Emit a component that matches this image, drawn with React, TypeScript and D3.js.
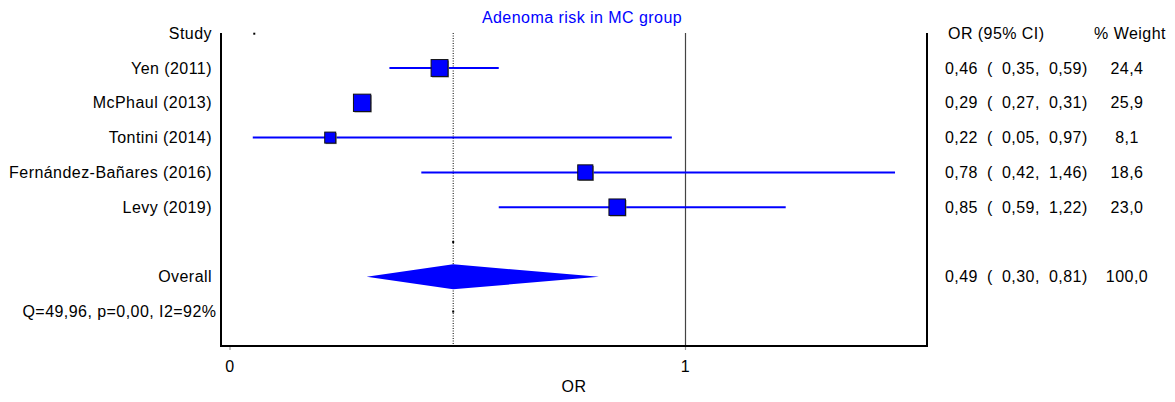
import React from "react";
import * as d3 from "d3";

const studies = ["Yen (2011)", "McPhaul (2013)", "Tontini (2014)", "Fernández-Bañares (2016)", "Levy (2019)"];
const oddsRatio = [0.46, 0.29, 0.22, 0.78, 0.85];
const lowerCI = [0.35, 0.27, 0.05, 0.42, 0.59];
const upperCI = [0.59, 0.31, 0.97, 1.46, 1.22];
const weights = [24.4, 25.9, 8.1, 18.6, 23.0];
const overallLabel = "Overall";
const overallEstimate = [0.49, 0.30, 0.81];
const overallWeight = 100.0;
const heterogeneity = "Q=49,96, p=0,00, I2=92%";
const xTicks = [0, 1];
const title = "Adenoma risk in MC group";

const W = 1175;
const H = 402;
const FONT = "'Liberation Sans', Arial, Helvetica, sans-serif";
const FS = 16;
const LS = 0.45;

const fmt2 = (v: number) => d3.format(".2f")(v).replace(".", ",");
const fmt1 = (v: number) => d3.format(".1f")(v).replace(".", ",");

export default function App() {
  const x = d3.scaleLinear().domain([0, 1]).range([230, 685.5]);
  const y = d3.scaleLinear().domain([0, 8]).range([33.2, 311.6]);
  const size = d3.scaleSqrt().domain([0, 25.9]).range([0, 14.3]);

  const left = 221;
  const right = 927;
  const top = 33;
  const bottom = 346;

  const textProps = { fontFamily: FONT, fontSize: FS, letterSpacing: LS, fill: "#000" } as const;

  const rows = studies.map((s, i) => ({
    label: s,
    or: oddsRatio[i],
    lo: lowerCI[i],
    hi: upperCI[i],
    w: weights[i],
    y: y(i + 1),
  }));

  const oy = y(7);
  const dh = 12.5;
  const diamond = [
    [x(overallEstimate[1]), oy],
    [x(overallEstimate[0]), oy - dh],
    [x(overallEstimate[2]), oy],
    [x(overallEstimate[0]), oy + dh],
  ];
  const diamondPath = d3.line()(diamond as [number, number][]) + "Z";

  const colEst = 945;
  const colParen = 987;
  const colLo = 1002;
  const colHi = 1049;
  const colW = 1127;

  const ciTexts = (est: number, lo: number, hi: number, w: number, yy: number, key: string) => (
    <g key={key}>
      <text {...textProps} x={colEst} y={yy} dy="0.35em">{fmt2(est)}</text>
      <text {...textProps} x={colParen} y={yy} dy="0.35em">(</text>
      <text {...textProps} x={colLo} y={yy} dy="0.35em">{fmt2(lo) + ","}</text>
      <text {...textProps} x={colHi} y={yy} dy="0.35em">{fmt2(hi) + ")"}</text>
      <text {...textProps} x={colW} y={yy} dy="0.35em" textAnchor="middle">{fmt1(w)}</text>
    </g>
  );

  return (
    <svg width={W} height={H} style={{ position: "absolute", left: 0, top: 0, background: "#fff" }}>
      <rect x={0} y={0} width={W} height={H} fill="#fff" />
      {/* title */}
      <text {...textProps} fill="#0000ff" x={582} y={17} dy="0.35em" textAnchor="middle">{title}</text>

      {/* reference lines */}
      <line x1={x(1)} x2={x(1)} y1={top} y2={bottom} stroke="#444" strokeWidth={1.2} />
      <line x1={x(overallEstimate[0])} x2={x(overallEstimate[0])} y1={top} y2={bottom} stroke="#000" strokeWidth={1} strokeDasharray="1,1.5" />

      {/* frame */}
      <line x1={left} x2={left} y1={top} y2={bottom} stroke="#000" strokeWidth={2} />
      <line x1={right} x2={right} y1={top} y2={bottom} stroke="#000" strokeWidth={2} />
      <line x1={left - 1} x2={right + 1} y1={bottom} y2={bottom} stroke="#000" strokeWidth={2} />

      {/* ticks */}
      {xTicks.map((t) => (
        <g key={t}>
          <line x1={x(t)} x2={x(t)} y1={bottom + 1} y2={bottom + 4} stroke="#999" strokeWidth={1.2} />
          <text {...textProps} x={x(t)} y={366} dy="0.35em" textAnchor="middle">{String(t)}</text>
        </g>
      ))}
      <text {...textProps} x={(left + right) / 2} y={386} dy="0.35em" textAnchor="middle">OR</text>

      {/* left labels */}
      <text {...textProps} x={212} y={y(0)} dy="0.35em" textAnchor="end">Study</text>
      {rows.map((r) => (
        <text key={r.label} {...textProps} x={212} y={r.y} dy="0.35em" textAnchor="end">{r.label}</text>
      ))}
      <text {...textProps} x={212} y={oy} dy="0.35em" textAnchor="end">{overallLabel}</text>
      <text {...textProps} x={216.5} y={y(8)} dy="0.35em" textAnchor="end">{heterogeneity}</text>

      {/* tiny markers */}
      <rect x={x(lowerCI[2]) + 0.5} y={y(0) - 0.5} width={2} height={2} fill="#000" />
      <rect x={x(overallEstimate[0]) - 1} y={y(6) - 1} width={2} height={2} fill="#000" />
      <rect x={x(overallEstimate[0]) - 1} y={y(8) - 1} width={2} height={2} fill="#000" />

      {/* studies */}
      {rows.map((r) => {
        const s = 3 + size(r.w);
        return (
          <g key={r.label + "m"}>
            <line x1={x(r.lo)} x2={x(r.hi)} y1={r.y} y2={r.y} stroke="#0000ff" strokeWidth={2} />
            <rect x={x(r.or) - s / 2 + 1} y={r.y - s / 2 + 1} width={s} height={s} fill="#777" />
            <rect x={x(r.or) - s / 2} y={r.y - s / 2} width={s} height={s} fill="#0000ff" stroke="#111" strokeWidth={1} />
          </g>
        );
      })}

      {/* overall diamond */}
      <path d={diamondPath} fill="#0000ff" stroke="none" />

      {/* right columns */}
      <text {...textProps} x={948} y={y(0)} dy="0.35em">OR (95% CI)</text>
      <text {...textProps} x={1130} y={y(0)} dy="0.35em" textAnchor="middle">% Weight</text>
      {rows.map((r) => ciTexts(r.or, r.lo, r.hi, r.w, r.y, r.label + "t"))}
      {ciTexts(overallEstimate[0], overallEstimate[1], overallEstimate[2], overallWeight, oy, "overall")}
    </svg>
  );
}
